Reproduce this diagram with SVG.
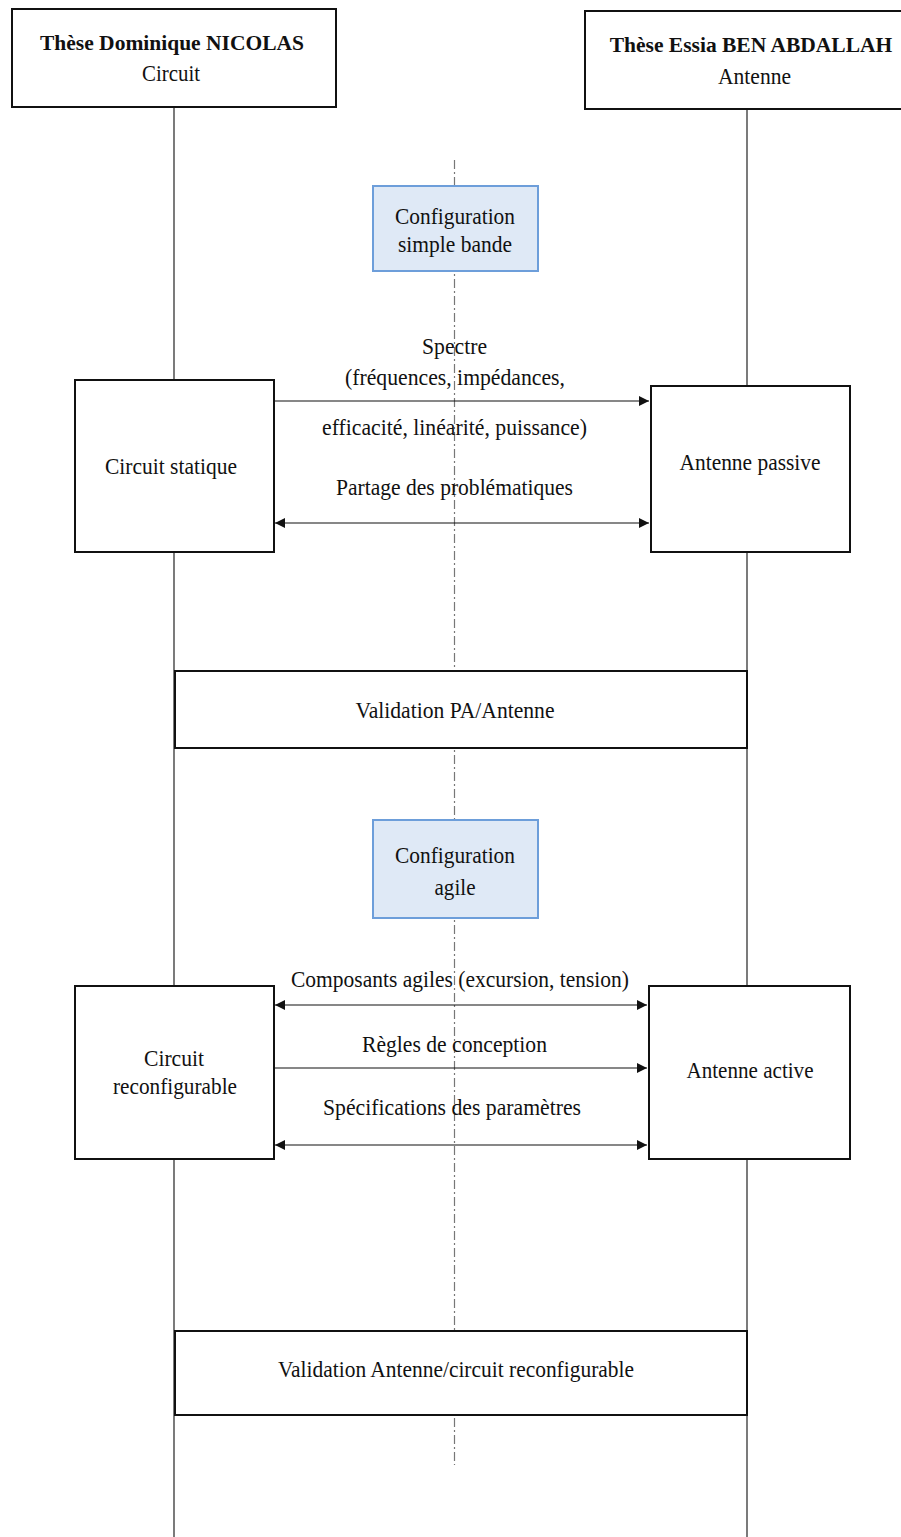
<svg xmlns="http://www.w3.org/2000/svg" width="901" height="1537" viewBox="0 0 901 1537">
<defs>
<style>
text{font-family:"Liberation Serif","Times New Roman",serif;font-size:23px;fill:#111;text-anchor:middle}
.b{font-weight:bold;font-size:21.5px}
.box{fill:#fff;stroke:#111;stroke-width:2}
.edge{fill:none;stroke:#111;stroke-width:2}
.cfg{fill:#dfe9f6;stroke:#6d9eda;stroke-width:2}
.life{stroke:#222;stroke-width:1.2;fill:none}
.axis{stroke:#777;stroke-width:1.2;stroke-dasharray:9 3 2 3;fill:none}
.arr{stroke:#111;stroke-width:1.2;fill:none}
</style>
<marker id="ah" viewBox="0 0 10 10" refX="10" refY="5" markerWidth="11" markerHeight="10" markerUnits="userSpaceOnUse" orient="auto-start-reverse">
<path d="M0,0 L10,5 L0,10 z" fill="#111"/>
</marker>
</defs>
<rect width="901" height="1537" fill="#fff"/>
<g id="lifelines">
<line class="life" x1="174" y1="107" x2="174" y2="1537"/>
<line class="life" x1="747" y1="109" x2="747" y2="1537"/>
<line class="axis" x1="454.5" y1="160" x2="454.5" y2="1465"/>
</g>
<g id="header-circuit">
<rect class="box" x="12" y="9" width="324" height="98"/>
<text class="b" x="172" y="50">Thèse Dominique NICOLAS</text>
<text x="171" y="81" textLength="58" lengthAdjust="spacingAndGlyphs">Circuit</text>
</g>
<g id="header-antenne">
<rect x="585" y="11" width="316" height="98" fill="#fff"/>
<path class="edge" d="M901,11 H585 V109 H901"/>
<text class="b" x="751" y="52">Thèse Essia BEN ABDALLAH</text>
<text x="754.5" y="84" textLength="73" lengthAdjust="spacingAndGlyphs">Antenne</text>
</g>
<g id="cfg-simple">
<rect class="cfg" x="373" y="186" width="165" height="85"/>
<text x="455" y="224" textLength="120" lengthAdjust="spacingAndGlyphs">Configuration</text>
<text x="455" y="252" textLength="114" lengthAdjust="spacingAndGlyphs">simple bande</text>
</g>
<g id="circuit-statique">
<rect class="box" x="75" y="380" width="199" height="172"/>
<text x="171" y="474" textLength="132" lengthAdjust="spacingAndGlyphs">Circuit statique</text>
</g>
<g id="antenne-passive">
<rect class="box" x="651" y="386" width="199" height="166"/>
<text x="750" y="470" textLength="141" lengthAdjust="spacingAndGlyphs">Antenne passive</text>
</g>
<g id="validation-pa">
<rect class="box" x="175" y="671" width="572" height="77"/>
<text x="455" y="718" textLength="199" lengthAdjust="spacingAndGlyphs">Validation PA/Antenne</text>
</g>
<g id="cfg-agile">
<rect class="cfg" x="373" y="820" width="165" height="98"/>
<text x="455" y="863" textLength="120" lengthAdjust="spacingAndGlyphs">Configuration</text>
<text x="455" y="895" textLength="41" lengthAdjust="spacingAndGlyphs">agile</text>
</g>
<g id="circuit-reconf">
<rect class="box" x="75" y="986" width="199" height="173"/>
<text x="174" y="1066" textLength="60" lengthAdjust="spacingAndGlyphs">Circuit</text>
<text x="175" y="1094" textLength="124" lengthAdjust="spacingAndGlyphs">reconfigurable</text>
</g>
<g id="antenne-active">
<rect class="box" x="649" y="986" width="201" height="173"/>
<text x="750" y="1078" textLength="127" lengthAdjust="spacingAndGlyphs">Antenne active</text>
</g>
<g id="validation-reconf">
<rect class="box" x="175" y="1331" width="572" height="84"/>
<text x="456" y="1377" textLength="356" lengthAdjust="spacingAndGlyphs">Validation Antenne/circuit reconfigurable</text>
</g>
<g id="connectors">
<line class="arr" x1="274" y1="401" x2="649" y2="401" marker-end="url(#ah)"/>
<line class="arr" x1="275" y1="523" x2="649" y2="523" marker-start="url(#ah)" marker-end="url(#ah)"/>
<line class="arr" x1="275" y1="1005" x2="647" y2="1005" marker-start="url(#ah)" marker-end="url(#ah)"/>
<line class="arr" x1="274" y1="1068" x2="647" y2="1068" marker-end="url(#ah)"/>
<line class="arr" x1="275" y1="1145" x2="647" y2="1145" marker-start="url(#ah)" marker-end="url(#ah)"/>
</g>
<g id="labels">
<text x="454.5" y="354" textLength="65" lengthAdjust="spacingAndGlyphs">Spectre</text>
<text x="455" y="385" textLength="220" lengthAdjust="spacingAndGlyphs">(fréquences, impédances,</text>
<text x="454.5" y="435" textLength="265" lengthAdjust="spacingAndGlyphs">efficacité, linéarité, puissance)</text>
<text x="454.5" y="495" textLength="237" lengthAdjust="spacingAndGlyphs">Partage des problématiques</text>
<text x="460" y="987" textLength="338" lengthAdjust="spacingAndGlyphs">Composants agiles (excursion, tension)</text>
<text x="454.5" y="1052" textLength="185" lengthAdjust="spacingAndGlyphs">Règles de conception</text>
<text x="452" y="1115" textLength="258" lengthAdjust="spacingAndGlyphs">Spécifications des paramètres</text>
</g>
</svg>
